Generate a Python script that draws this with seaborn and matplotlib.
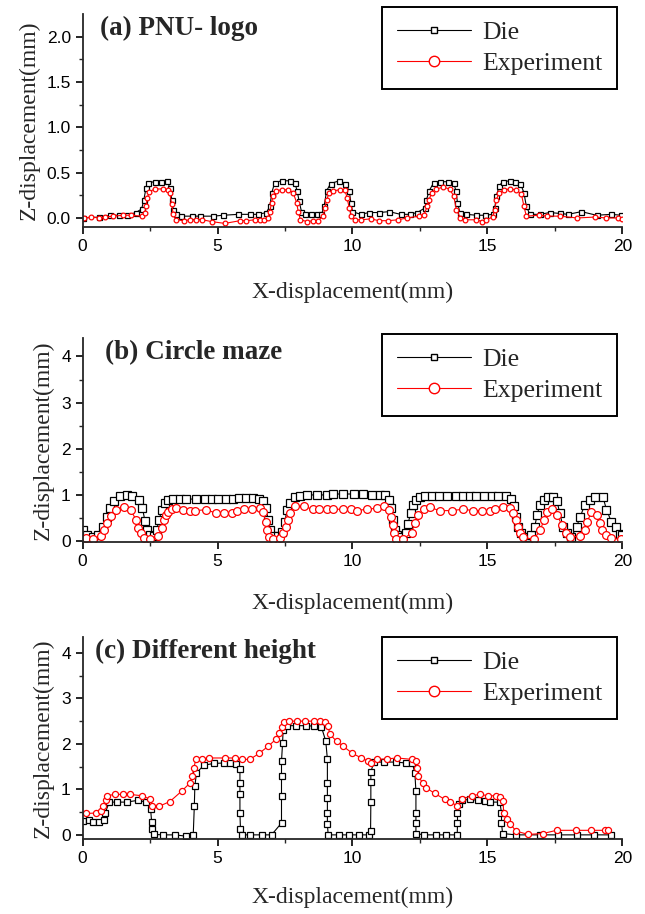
import numpy as np
import pandas as pd
import matplotlib
matplotlib.use('Agg')
import matplotlib.pyplot as plt
import seaborn as sns

# ---- (a) PNU- logo ----
a_die_x = [0.02, 0.62, 1.01, 1.36, 1.63, 1.98, 2.19, 2.27, 2.35, 2.43, 2.68, 2.89, 3.14, 3.23, 3.31, 3.36,
           3.46, 3.63, 4.04, 4.35, 4.84, 5.21, 5.77, 6.20, 6.51, 6.81, 6.94, 7.01, 7.12, 7.37, 7.68, 7.86,
           7.95, 8.02, 8.11, 8.23, 8.48, 8.69, 8.85, 8.95, 9.04, 9.19, 9.51, 9.72, 9.88, 9.94, 10.0,
           10.3, 10.62, 10.99, 11.36, 11.78, 12.12, 12.4, 12.68, 12.74, 12.84, 13.01, 13.23, 13.54, 13.75,
           13.83, 13.89, 13.98, 14.22, 14.59, 14.9, 15.19, 15.27, 15.33, 15.43, 15.56, 15.83, 16.01, 16.22,
           16.35, 16.44, 16.57, 16.94, 17.31, 17.68, 17.99, 18.48, 19.04, 19.59, 19.96]
a_die_z = [0.0, 0.01, 0.03, 0.03, 0.03, 0.06, 0.10, 0.20, 0.33, 0.39, 0.40, 0.40, 0.41, 0.33, 0.20, 0.09,
           0.04, 0.02, 0.02, 0.02, 0.02, 0.03, 0.04, 0.04, 0.04, 0.06, 0.13, 0.28, 0.39, 0.41, 0.41, 0.39,
           0.30, 0.19, 0.07, 0.04, 0.04, 0.04, 0.04, 0.13, 0.30, 0.38, 0.41, 0.38, 0.30, 0.17, 0.07,
           0.04, 0.06, 0.06, 0.07, 0.04, 0.04, 0.06, 0.11, 0.20, 0.30, 0.39, 0.40, 0.40, 0.39,
           0.30, 0.17, 0.06, 0.04, 0.03, 0.03, 0.04, 0.11, 0.24, 0.35, 0.40, 0.41, 0.40, 0.38,
           0.28, 0.13, 0.04, 0.04, 0.06, 0.05, 0.04, 0.07, 0.03, 0.04, 0.03]
a_exp_x = [0.05, 0.33, 0.62, 0.83, 1.14, 1.51, 1.78, 2.19, 2.31, 2.35, 2.40, 2.47, 2.68, 2.99, 3.17, 3.23,
           3.30, 3.36, 3.46, 3.75, 3.98, 4.22, 4.44, 4.78, 5.27, 5.83, 6.07, 6.38, 6.57, 6.72, 6.88, 6.94,
           7.00, 7.06, 7.16, 7.37, 7.62, 7.80, 7.93, 7.99, 8.07, 8.32, 8.54, 8.73, 8.91, 8.98, 9.04, 9.14,
           9.28, 9.53, 9.72, 9.80, 9.88, 9.96, 10.09, 10.33, 10.67, 10.99, 11.32, 11.69, 12.02, 12.47,
           12.64, 12.77, 12.84, 12.93, 13.11, 13.36, 13.6, 13.75, 13.85, 14.0, 14.16, 14.59, 14.81, 14.96,
           15.19, 15.27, 15.33, 15.43, 15.6, 15.83, 16.07, 16.26, 16.35, 16.44, 16.91, 17.19, 17.68, 18.32,
           18.98, 19.41, 19.84, 20.0]
a_exp_z = [0.0, 0.01, 0.0, 0.01, 0.02, 0.03, 0.03, 0.02, 0.06, 0.13, 0.22, 0.29, 0.32, 0.32, 0.31, 0.28,
           0.15, 0.04, -0.02, -0.03, -0.02, -0.02, -0.02, -0.04, -0.06, -0.03, -0.03, -0.02, -0.02, -0.02, 0.0, 0.07,
           0.17, 0.24, 0.30, 0.31, 0.31, 0.28, 0.17, 0.07, -0.02, -0.04, -0.03, -0.03, 0.02, 0.11, 0.20, 0.28,
           0.30, 0.31, 0.31, 0.22, 0.11, 0.02, -0.02, -0.02, -0.01, -0.03, -0.03, -0.02, 0.0, 0.02,
           0.03, 0.13, 0.20, 0.28, 0.32, 0.34, 0.32, 0.24, 0.09, 0.0, -0.02, -0.02, -0.04, -0.02,
           0.01, 0.09, 0.20, 0.28, 0.31, 0.32, 0.31, 0.26, 0.13, 0.02, 0.03, 0.02, 0.02, 0.0,
           0.01, 0.0, 0.0, -0.01]

# ---- (b) Circle maze ----
b_die_x = [0.02, 0.15, 0.40, 0.58, 0.74, 0.89, 1.01, 1.16, 1.38, 1.63, 1.85, 2.10, 2.22, 2.31, 2.40, 2.49,
           2.65, 2.74, 2.84, 2.93, 3.05, 3.17, 3.36, 3.60, 3.85, 4.22, 4.53, 4.78, 5.02, 5.31, 5.56, 5.80,
           6.07, 6.32, 6.54, 6.69, 6.79, 6.88, 6.94, 7.06, 7.25, 7.37, 7.49, 7.58, 7.68, 7.86, 8.07, 8.32,
           8.67, 9.04, 9.28, 9.65, 10.05, 10.4, 10.74, 11.01, 11.2, 11.36, 11.44, 11.51, 11.57, 11.65,
           11.81, 11.98, 12.06, 12.15, 12.25, 12.37, 12.49, 12.68, 12.93, 13.21, 13.51, 13.83, 14.1, 14.35,
           14.59, 14.86, 15.15, 15.4, 15.7, 15.89, 15.98, 16.05, 16.14, 16.26, 16.44, 16.63, 16.75, 16.84,
           16.94, 17.09, 17.25, 17.43, 17.58, 17.68, 17.8, 17.93, 18.11, 18.3, 18.44, 18.6, 18.79, 18.98,
           19.28, 19.41, 19.59, 19.75, 19.9, 20.0]
b_die_z = [0.24, 0.13, 0.09, 0.13, 0.31, 0.53, 0.71, 0.86, 0.97, 1.00, 0.98, 0.89, 0.71, 0.44, 0.24, 0.13,
           0.11, 0.24, 0.46, 0.68, 0.83, 0.89, 0.91, 0.91, 0.91, 0.91, 0.91, 0.91, 0.91, 0.91, 0.91, 0.93,
           0.93, 0.93, 0.91, 0.86, 0.71, 0.46, 0.24, 0.11, 0.11, 0.20, 0.42, 0.68, 0.83, 0.95, 0.98, 1.00,
           1.00, 1.00, 1.02, 1.02, 1.02, 1.02, 1.00, 1.00, 1.00, 0.89, 0.71, 0.46, 0.24, 0.13,
           0.09, 0.17, 0.38, 0.60, 0.78, 0.89, 0.95, 0.97, 0.97, 0.97, 0.97, 0.97, 0.97, 0.97,
           0.97, 0.97, 0.97, 0.97, 0.97, 0.91, 0.75, 0.53, 0.31, 0.17, 0.09, 0.13, 0.31, 0.57,
           0.78, 0.89, 0.95, 0.95, 0.86, 0.60, 0.31, 0.17, 0.08, 0.31, 0.53, 0.78, 0.89, 0.95,
           0.95, 0.68, 0.42, 0.31, 0.15, 0.13]
b_exp_x = [0.12, 0.40, 0.67, 0.79, 0.89, 1.04, 1.23, 1.53, 1.78, 1.98, 2.06, 2.15, 2.27, 2.49, 2.81, 2.93,
           3.01, 3.09, 3.17, 3.30, 3.46, 3.73, 3.98, 4.16, 4.59, 4.96, 5.23, 5.52, 5.73, 5.98, 6.26, 6.57,
           6.69, 6.79, 6.84, 6.91, 7.06, 7.31, 7.41, 7.53, 7.62, 7.70, 7.86, 8.20, 8.52, 8.77, 9.04, 9.28,
           9.65, 9.93, 10.15, 10.52, 10.89, 11.16, 11.36, 11.44, 11.51, 11.53, 11.6, 11.88, 12.19, 12.31,
           12.44, 12.64, 12.86, 13.23, 13.67, 14.1, 14.47, 14.78, 15.09, 15.27, 15.58, 15.83, 15.95, 16.05,
           16.14, 16.22, 16.32, 16.72, 16.96, 17.09, 17.19, 17.38, 17.58, 17.75, 17.91, 18.05, 18.42, 18.6,
           18.69, 18.85, 19.04, 19.16, 19.26, 19.41, 19.59, 19.96]
b_exp_z = [0.06, 0.04, 0.11, 0.24, 0.40, 0.54, 0.68, 0.73, 0.68, 0.46, 0.28, 0.17, 0.06, 0.04, 0.11, 0.28,
           0.46, 0.57, 0.64, 0.69, 0.71, 0.68, 0.66, 0.66, 0.68, 0.60, 0.60, 0.60, 0.66, 0.69, 0.69, 0.71,
           0.62, 0.42, 0.24, 0.09, 0.04, 0.06, 0.17, 0.31, 0.46, 0.60, 0.75, 0.75, 0.69, 0.69, 0.69, 0.69,
           0.69, 0.69, 0.66, 0.69, 0.71, 0.75, 0.68, 0.53, 0.35, 0.17, 0.04, 0.04, 0.18, 0.40,
           0.57, 0.69, 0.73, 0.66, 0.66, 0.69, 0.66, 0.66, 0.66, 0.69, 0.73, 0.71, 0.60, 0.46,
           0.31, 0.17, 0.08, 0.04, 0.24, 0.46, 0.62, 0.69, 0.57, 0.35, 0.17, 0.08, 0.11, 0.24,
           0.42, 0.62, 0.57, 0.40, 0.24, 0.13, 0.06, 0.04]

# ---- (c) Different height ----
c_die_x = [0.02, 0.25, 0.40, 0.62, 0.79, 0.83, 0.99, 1.28, 1.63, 2.06, 2.35, 2.52, 2.56, 2.59, 2.64, 2.99,
           3.42, 3.85, 4.10, 4.14, 4.16, 4.22, 4.49, 4.86, 5.23, 5.46, 5.70, 5.83, 5.83, 5.83, 5.83, 5.85,
           5.89, 6.22, 6.63, 7.00, 7.37, 7.37, 7.37, 7.37, 7.41, 7.43, 7.56, 7.90, 8.27, 8.57, 8.85, 9.01,
           9.07, 9.07, 9.07, 9.07, 9.07, 9.10, 9.51, 9.88, 10.25, 10.62, 10.67, 10.68, 10.68, 10.68, 10.79,
           11.16, 11.6, 11.98, 12.22, 12.31, 12.35, 12.35, 12.35, 12.35, 12.64, 13.09, 13.48, 13.88, 13.89,
           13.89, 13.95, 14.04, 14.35, 14.65, 14.9, 15.11, 15.46, 15.52, 15.52, 15.56, 16.05, 16.94, 17.62,
           18.32, 18.94, 19.59]
c_die_z = [0.30, 0.32, 0.28, 0.28, 0.32, 0.47, 0.72, 0.72, 0.72, 0.76, 0.72, 0.57, 0.28, 0.12, 0.01, 0.0,
           0.0, -0.03, 0.0, 0.63, 1.07, 1.36, 1.53, 1.57, 1.58, 1.58, 1.55, 1.45, 1.14, 0.89, 0.48, 0.12,
           0.0, 0.0, 0.0, 0.0, 0.26, 0.85, 1.30, 1.62, 2.02, 2.31, 2.40, 2.40, 2.40, 2.39, 2.37, 2.06,
           1.66, 1.14, 0.81, 0.48, 0.23, 0.0, 0.0, 0.0, 0.0, 0.0, 0.08, 0.72, 1.16, 1.38, 1.60,
           1.60, 1.60, 1.58, 1.57, 1.36, 0.96, 0.48, 0.25, 0.03, 0.0, 0.0, 0.0, 0.0, 0.25,
           0.48, 0.67, 0.76, 0.78, 0.76, 0.74, 0.72, 0.72, 0.48, 0.26, 0.03, 0.0, 0.0, 0.0,
           0.0, 0.0, 0.0]
c_exp_x = [0.12, 0.49, 0.67, 0.77, 0.86, 0.91, 1.20, 1.48, 1.75, 2.19, 2.49, 2.59, 2.84, 3.23, 3.67, 3.98,
           4.07, 4.12, 4.20, 4.44, 4.69, 5.27, 5.65, 5.89, 6.20, 6.54, 6.88, 7.16, 7.28, 7.37, 7.46, 7.65,
           7.93, 8.23, 8.57, 8.81, 8.98, 9.10, 9.16, 9.41, 9.63, 10.0, 10.33, 10.58, 10.70, 10.91, 11.28,
           11.65, 12.19, 12.35, 12.40, 12.44, 12.60, 12.74, 13.05, 13.42, 13.63, 13.88, 14.07, 14.41, 14.72,
           15.02, 15.31, 15.46, 15.58, 15.60, 15.73, 15.85, 16.07, 16.51, 17.06, 17.56, 18.27, 18.85, 19.35,
           19.47]
c_exp_z = [0.47, 0.48, 0.52, 0.63, 0.76, 0.86, 0.89, 0.89, 0.89, 0.86, 0.79, 0.64, 0.63, 0.73, 0.96, 1.14,
           1.30, 1.47, 1.66, 1.67, 1.69, 1.69, 1.69, 1.66, 1.66, 1.79, 1.95, 2.10, 2.23, 2.37, 2.48, 2.50,
           2.50, 2.50, 2.50, 2.50, 2.48, 2.39, 2.21, 2.06, 1.96, 1.79, 1.69, 1.62, 1.58, 1.66, 1.67,
           1.69, 1.66, 1.62, 1.47, 1.29, 1.14, 1.03, 0.91, 0.78, 0.72, 0.64, 0.79, 0.86, 0.89,
           0.86, 0.86, 0.84, 0.74, 0.48, 0.34, 0.23, 0.08, 0.01, 0.03, 0.10, 0.10, 0.10, 0.10,
           0.10]

panels = [
    ('(a) PNU- logo', a_die_x, a_die_z, a_exp_x, a_exp_z),
    ('(b) Circle maze', b_die_x, b_die_z, b_exp_x, b_exp_z),
    ('(c) Different height', c_die_x, c_die_z, c_exp_x, c_exp_z),
]

sns.set_style('ticks')
plt.rcParams['font.family'] = ['Liberation Serif', 'DejaVu Serif']
plt.rcParams['axes.linewidth'] = 1.3

fig = plt.figure(figsize=(6.45, 9.14), dpi=100)
# [left, bottom, width, height] in figure fraction
boxes = [
    [0.128, 0.7516, 0.837, 0.2331],
    [0.128, 0.4070, 0.837, 0.2232],
    [0.128, 0.0821, 0.837, 0.2210],
]
ylims = [(-0.1, 2.25), (-0.02, 4.4), (-0.09, 4.35)]
yticks = [np.arange(0, 2.01, 0.5), np.arange(0, 4.1, 1), np.arange(0, 4.1, 1)]
yfmt = ['{:.1f}', '{:.0f}', '{:.0f}']
msize = [(3.6, 3.4), (5.2, 5.6), (4.0, 4.4)]
title_x = [0.032, 0.041, 0.023]
leg_top = [1.033, 1.02, 1.0]
xlab_pad = [20, 17, 15]

for i, (title, dx, dz, ex, ez) in enumerate(panels):
    ax = fig.add_axes(boxes[i])
    die = pd.DataFrame({'x': dx, 'z': dz})
    exp = pd.DataFrame({'x': ex, 'z': ez})
    sns.lineplot(data=die, x='x', y='z', ax=ax, sort=False, estimator=None,
                 color='black', lw=0.8, marker='s', markersize=msize[i][0],
                 markerfacecolor='white', markeredgecolor='black', markeredgewidth=0.9,
                 label='Die')
    sns.lineplot(data=exp, x='x', y='z', ax=ax, sort=False, estimator=None,
                 color='red', lw=0.8, marker='o', markersize=msize[i][1],
                 markerfacecolor='white', markeredgecolor='red', markeredgewidth=0.9,
                 label='Experiment')

    ax.set_xlim(0, 20)
    ax.set_ylim(*ylims[i])
    ax.set_xticks([0, 5, 10, 15, 20])
    ax.set_xticks([2.5, 7.5, 12.5, 17.5], minor=True)
    ax.set_yticks(yticks[i])
    step = yticks[i][1] - yticks[i][0]
    ax.set_yticks(np.arange(step / 2, ylims[i][1], step), minor=True)
    ax.set_yticklabels([yfmt[i].format(v) for v in yticks[i]])
    ax.tick_params(which='major', length=5, width=1.2, direction='out', labelsize=12.5, colors='black')
    ax.tick_params(which='minor', length=3, width=1.0, direction='out')
    for lab in ax.get_xticklabels() + ax.get_yticklabels():
        lab.set_fontfamily('Liberation Sans')
    sns.despine(ax=ax)

    ax.set_xlabel('X-displacement(mm)', fontsize=17, labelpad=xlab_pad[i])
    ax.set_ylabel('Z-displacement(mm)', fontsize=17, labelpad=5)
    ax.text(title_x[i], 0.99, title, transform=ax.transAxes, ha='left', va='top',
            fontsize=19.5, fontweight='bold')

    leg = ax.legend(loc='upper right', bbox_to_anchor=(0.99, leg_top[i]), fontsize=18.5,
                    frameon=True, fancybox=False, framealpha=1, edgecolor='black',
                    handlelength=2.9, handletextpad=0.45, borderpad=0.55, labelspacing=0.3,
                    borderaxespad=0)
    leg.get_frame().set_linewidth(1.4)
    # legend symbols are the same size in every panel
    for ln, ms in zip(leg.get_lines(), (5.0, 7.5)):
        ln.set_markersize(ms)
        ln.set_markeredgewidth(1.0)

fig.savefig('out.png', dpi=100)
